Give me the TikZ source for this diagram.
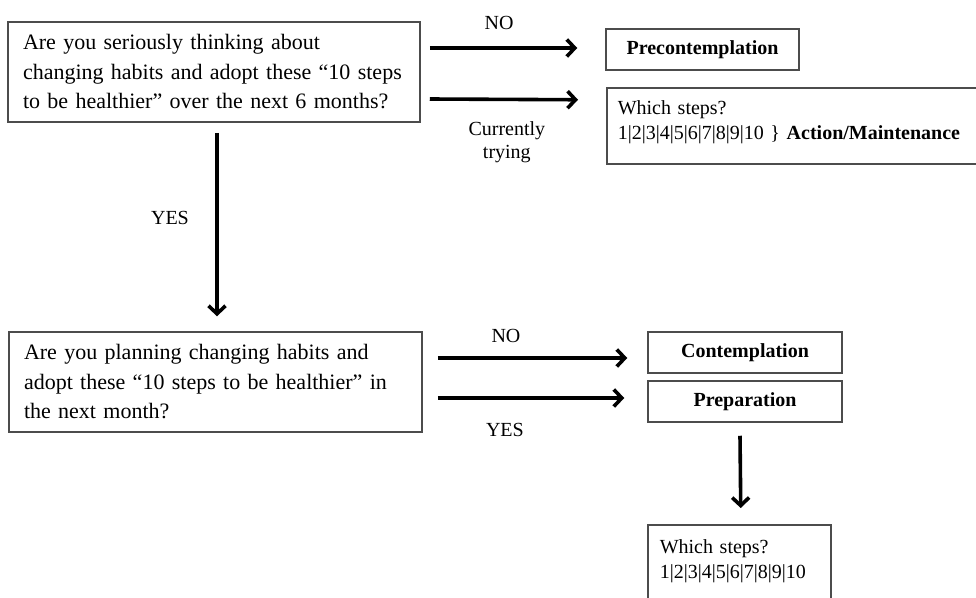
\documentclass[tikz,border=0pt]{standalone}
\usepackage{fontspec}
\setmainfont{Liberation Serif}
\usetikzlibrary{arrows.meta}

\tikzset{
  qbox/.style={draw=black!70, line width=1.5pt, align=left, inner xsep=15pt,
    minimum height=100pt, font=\fontsize{22}{29.5}\selectfont},
  stagebox/.style={draw=black!70, line width=1.5pt, minimum width=194pt,
    minimum height=41pt, font=\fontsize{20}{24}\selectfont\bfseries},
  stepsbox/.style={draw=black!70, line width=1.5pt, align=left, anchor=north west,
    inner ysep=7pt, font=\fontsize{20}{25}\selectfont},
  arr/.style={line width=3.6pt, -{Straight Barb[length=8pt,width=17pt]}},
  lbl/.style={align=center, font=\fontsize{20}{23}\selectfont}
}

\begin{document}
\begin{tikzpicture}[x=1pt,y=-1pt]
  \useasboundingbox (0,0) rectangle (976,597);

  \node[qbox, text width=382pt] (ask6m) at (214,72)
    {Are you seriously thinking about\\changing habits and adopt these “10 steps\\to be healthier” over the next 6 months?};
  \node[qbox, text width=383pt] (ask1m) at (215.5,382)
    {Are you planning changing habits and\\adopt these “10 steps to be healthier” in\\the next month?};

  \node[stagebox, minimum width=193pt] (precon) at (702.5,49.5) {Precontemplation};
  \node[stagebox] (contem) at (745,352.5) {Contemplation};
  \node[stagebox] (prepa) at (745,401.5) {Preparation};

  \node[stepsbox, inner xsep=11pt, text width=380pt, text height=20pt, text depth=42pt] (steps6m) at (606,87)
    {Which steps?\\1|2|3|4|5|6|7|8|9|10 \} \textbf{Action/Maintenance}};
  \node[stepsbox, inner xsep=12pt, text width=159pt, text height=22pt, text depth=50pt] (steps1m) at (647,524)
    {Which steps?\\1|2|3|4|5|6|7|8|9|10};

  \draw[arr] ([shift={(9,-24)}]ask6m.east) -- node[lbl, pos=0.47, above=13pt] {NO} ([shift={(-28,-1.5)}]precon.west);
  \draw[arr] ([shift={(9,27)}]ask6m.east) -- node[lbl, pos=0.52, below=17pt] {Currently\\trying} ([shift={(-28,-26)}]steps6m.west);
  \draw[arr] ([shift={(3,10)}]ask6m.south) -- node[lbl, pos=0.465, left=23pt] {YES} ([shift={(1.5,-15)}]ask1m.north);

  \draw[arr] ([shift={(15,-24)}]ask1m.east) -- node[lbl, pos=0.36, above=10pt] {NO} ([shift={(-20,5.5)}]contem.west);
  \draw[arr] ([shift={(15,16)}]ask1m.east) -- node[lbl, pos=0.36, below=20pt] {YES} ([shift={(-23,-3.5)}]prepa.west);
  \draw[arr] ([shift={(-5,13)}]prepa.south) -- ([shift={(1.5,-16)}]steps1m.north);
\end{tikzpicture}
\end{document}
